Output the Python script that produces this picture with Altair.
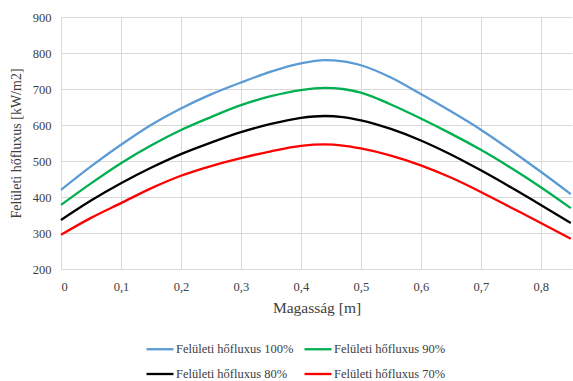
import altair as alt
import pandas as pd

x_vals = [0, 0.05, 0.1, 0.15, 0.2, 0.25, 0.3, 0.35, 0.4, 0.44, 0.47, 0.5, 0.55, 0.6, 0.65, 0.7, 0.75, 0.8, 0.85]
blue = [420, 485, 545, 600, 646, 685, 718, 748, 771, 780, 777, 766, 732, 686, 638, 587, 530, 470, 408]
green = [378, 438, 494, 543, 586, 622, 655, 680, 697, 703, 700, 690, 657, 618, 576, 531, 481, 427, 369]
black = [336, 390, 438, 481, 519, 551, 580, 603, 620, 625, 622, 613, 589, 557, 518, 474, 427, 378, 328]
red = [295, 342, 383, 424, 459, 486, 508, 527, 542, 546, 543, 535, 515, 488, 454, 414, 371, 328, 284]

series_names = ["Felületi hőfluxus 100%", "Felületi hőfluxus 90%",
                "Felületi hőfluxus 80%", "Felületi hőfluxus 70%"]
series_colors = ["#5B9BD5", "#00B050", "#000000", "#FF0000"]
x_ticks = [0, 0.1, 0.2, 0.3, 0.4, 0.5, 0.6, 0.7, 0.8]
y_ticks = [200, 300, 400, 500, 600, 700, 800, 900]

rows = []
for name, vals in zip(series_names, [blue, green, black, red]):
    for xv, yv in zip(x_vals, vals):
        rows.append({"x": xv, "y": yv, "series": name})
df = pd.DataFrame(rows)

FONT = "Liberation Serif"

chart = alt.Chart(df).mark_line(strokeWidth=2.3, interpolate="monotone").encode(
    x=alt.X("x:Q", scale=alt.Scale(domain=[0, 0.852], nice=False, zero=False),
            axis=alt.Axis(values=x_ticks, title="Magasság [m]", grid=True,
                          labelExpr="replace(format(datum.value, '~g'), '.', ',')",
                          ticks=False, domain=True, domainColor="#d9d9d9",
                          labelPadding=11, titlePadding=8, labelFontSize=12.5,
                          titleFontSize=15.5, labelColor="#404040", titleColor="#404040",
                          labelFont=FONT, titleFont=FONT, titleFontWeight="normal")),
    y=alt.Y("y:Q", scale=alt.Scale(domain=[200, 900], nice=False),
            axis=alt.Axis(values=y_ticks, title="Felületi hőfluxus [kW/m2]", grid=True,
                          ticks=False, domain=False, labelPadding=10, titlePadding=9,
                          labelFontSize=12.5, titleFontSize=14, labelColor="#404040",
                          titleColor="#404040", labelFont=FONT, titleFont=FONT,
                          titleFontWeight="normal")),
    color=alt.Color("series:N",
                    scale=alt.Scale(domain=series_names, range=series_colors),
                    sort=series_names,
                    legend=alt.Legend(title=None, orient="none", legendX=84, legendY=317,
                                      columns=2, symbolType="stroke", symbolSize=729,
                                      symbolStrokeWidth=2.3, labelFont=FONT, labelFontSize=12.5,
                                      labelColor="#404040", rowPadding=3, columnPadding=5,
                                      padding=0, labelOffset=1, direction="horizontal")),
).properties(
    width=511, height=252,
    padding={"left": 61, "top": 17, "right": 1, "bottom": 112},
    autosize=alt.AutoSizeParams(type="none"),
).configure_axis(
    gridColor="#d9d9d9", gridWidth=1
).configure_view(stroke=None)

chart.save("out.html", embed_options={"renderer": "svg", "actions": False})
